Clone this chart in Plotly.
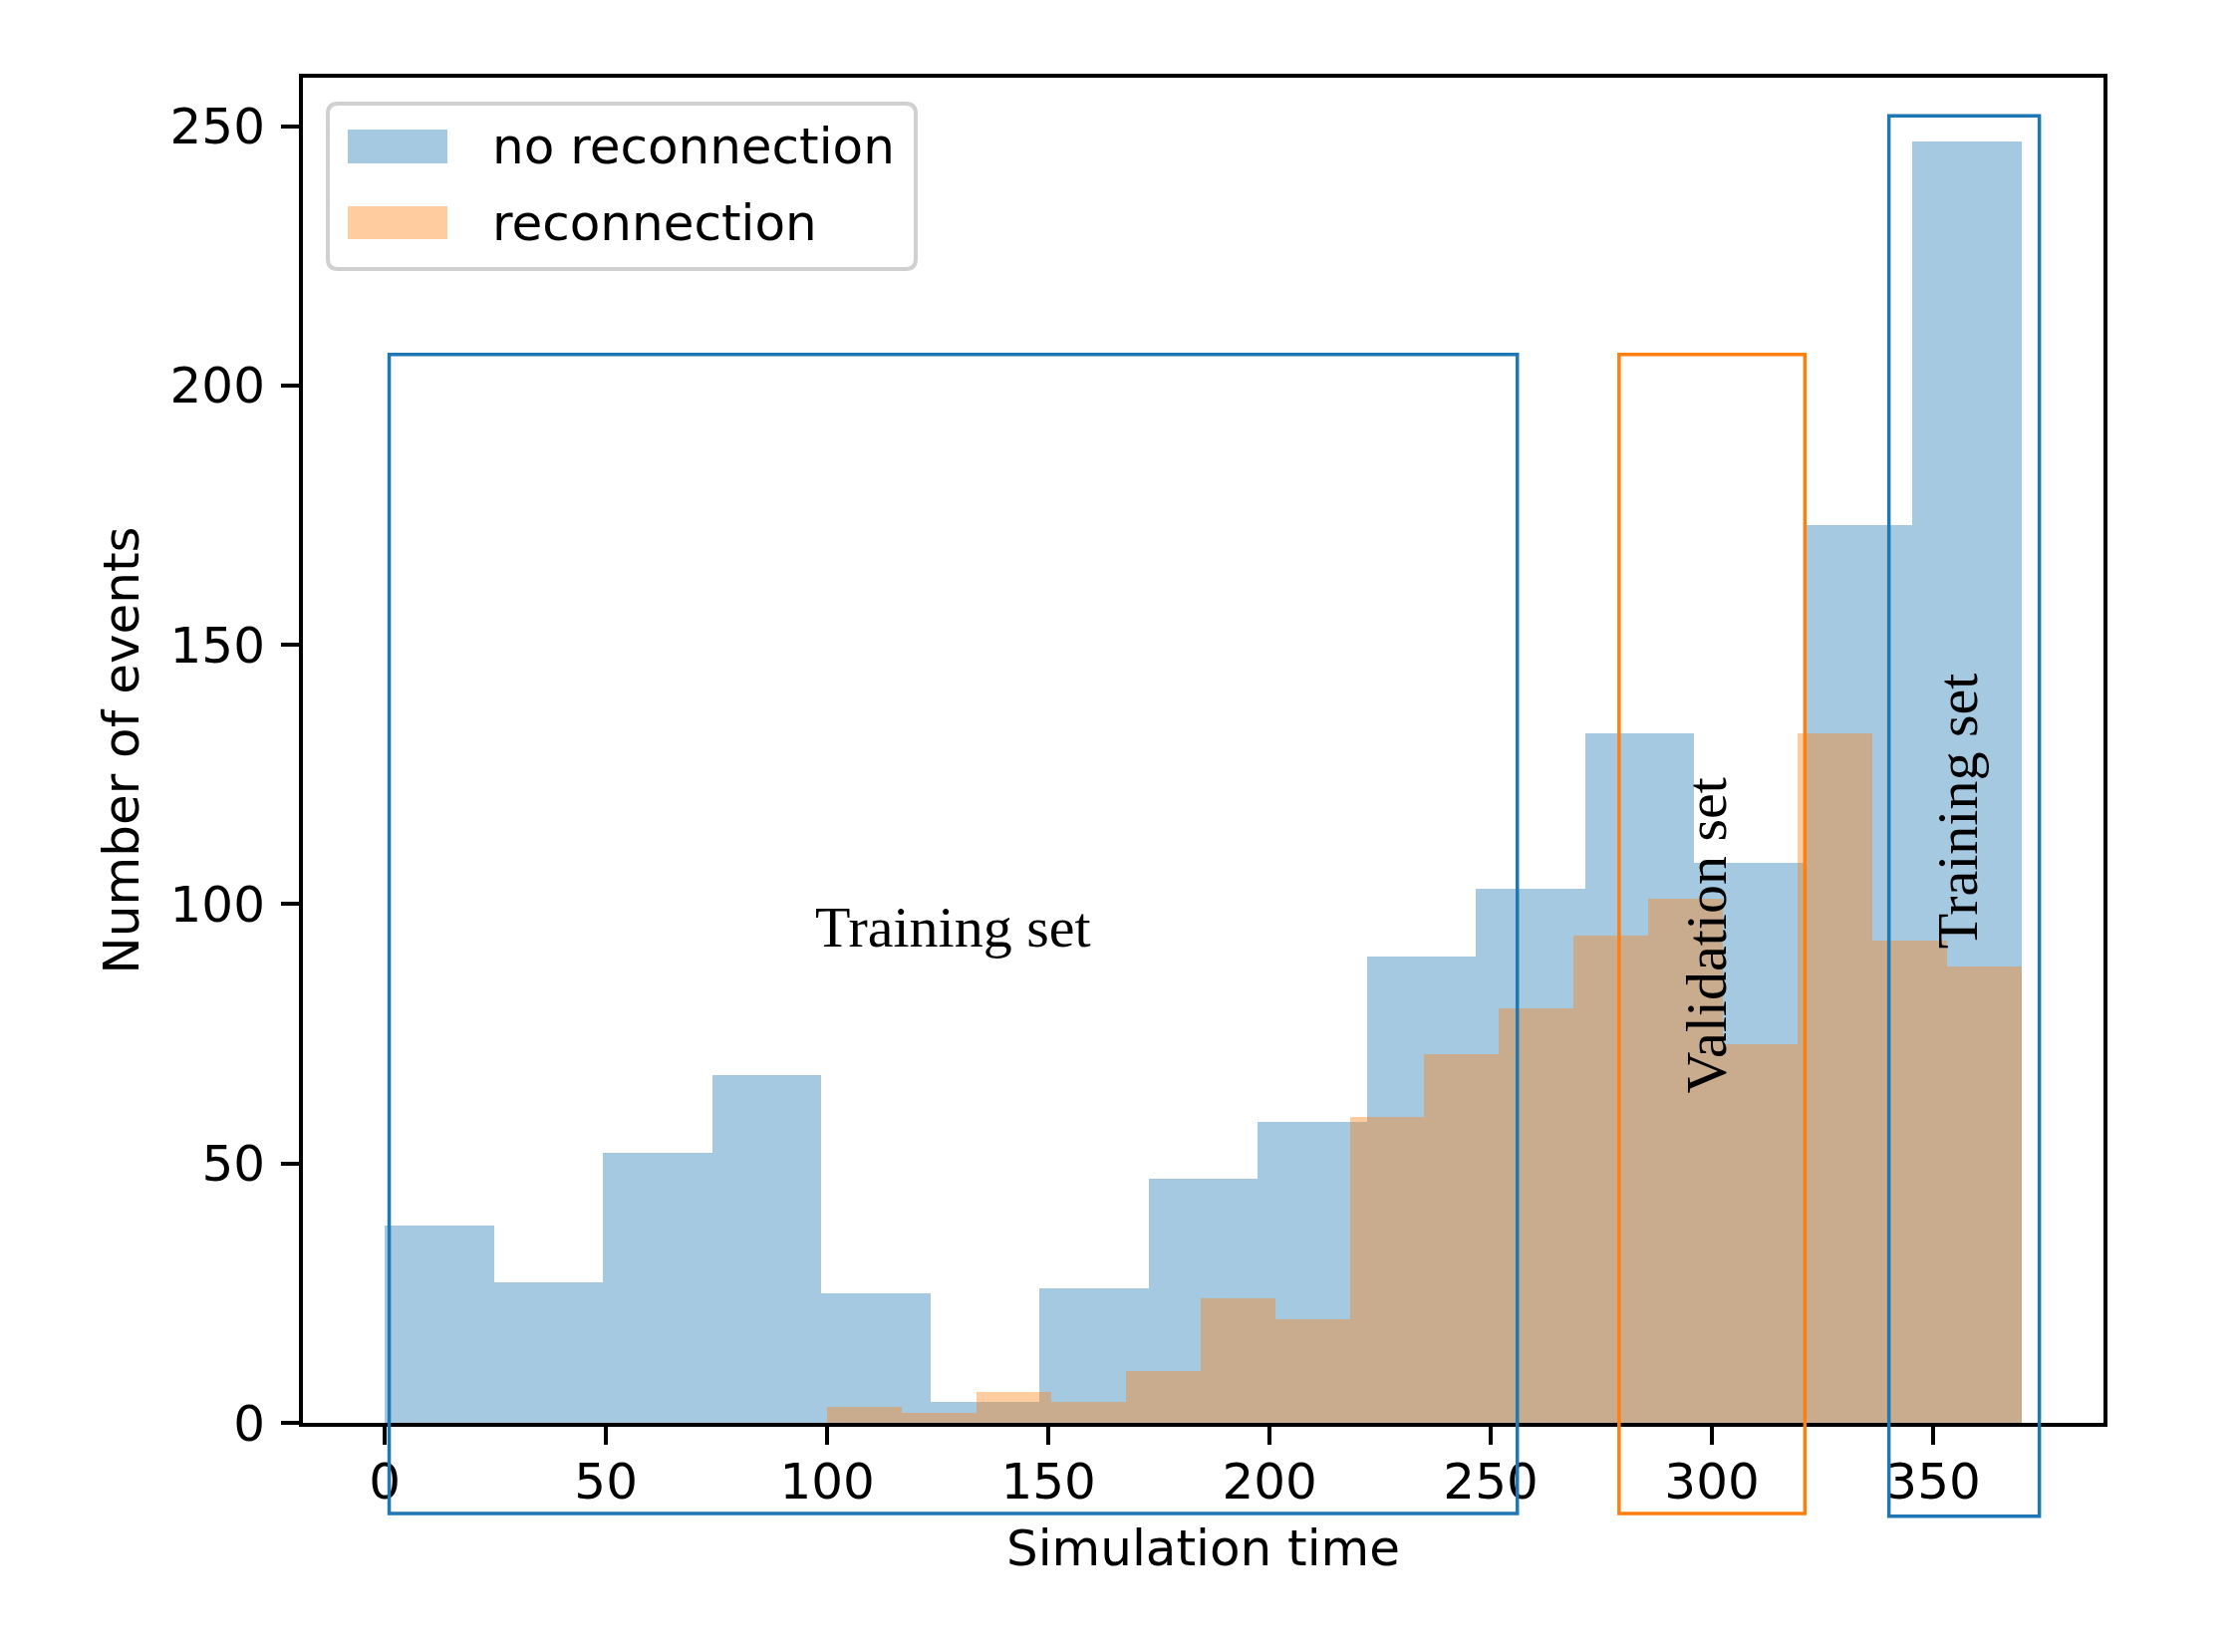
import numpy as np
import plotly.graph_objects as go

# histogram counts
time_lo, time_hi = 0, 370
no_recon_counts = [38, 27, 52, 67, 25, 4, 26, 47, 58, 90, 103, 133, 108, 173, 247]
recon_lo = 100
recon_counts = [3, 2, 6, 4, 10, 24, 20, 59, 71, 80, 94, 101, 73, 133, 93, 88]

x_ticks = [0, 50, 100, 150, 200, 250, 300, 350]
y_ticks = [0, 50, 100, 150, 200, 250]

# annotation boxes (x0, x1, y0, y1) in data units
boxes = [
    ("Training set", (1, 256, -17.5, 206), "#1f77b4", (128.5, 95.5), 0),
    ("Validation set", (279, 321, -17.5, 206), "#ff7f0e", (298.8, 94), -90),
    ("Training set", (340, 374, -18, 252), "#1f77b4", (355.5, 118), -90),
]

W, H = 2248, 1658
L, R, T, B = 296, 145, 70, 238
x_range = [-18.5, 388.5]
y_range = [0, 259.35]

SANS = "DejaVu Sans"
SERIF = "Liberation Serif, Times New Roman, serif"
BLUE = "rgba(31,119,180,0.4)"
ORANGE = "rgba(255,127,14,0.4)"


def hist_bars(lo, hi, counts):
    edges = np.linspace(lo, hi, len(counts) + 1)
    centers = (edges[:-1] + edges[1:]) / 2
    widths = np.diff(edges)
    return centers, widths


fig = go.Figure()

cx, wx = hist_bars(time_lo, time_hi, no_recon_counts)
fig.add_trace(go.Bar(x=cx, y=no_recon_counts, width=wx, name="no reconnection",
                     marker=dict(color=BLUE, line=dict(width=0)), showlegend=False))
cx, wx = hist_bars(recon_lo, time_hi, recon_counts)
fig.add_trace(go.Bar(x=cx, y=recon_counts, width=wx, name="reconnection",
                     marker=dict(color=ORANGE, line=dict(width=0)), showlegend=False))


def dx(v):
    return (v - x_range[0]) / (x_range[1] - x_range[0])


def dy(v):
    return (v - y_range[0]) / (y_range[1] - y_range[0])


for label, (x0, x1, y0, y1), col, (tx, ty), ang in boxes:
    fig.add_shape(type="rect", xref="x domain", yref="y domain",
                  x0=dx(x0), x1=dx(x1), y0=dy(y0), y1=dy(y1),
                  line=dict(color=col, width=3.5), layer="above")
    fig.add_annotation(x=tx, y=ty, xref="x", yref="y", text=label, showarrow=False,
                       textangle=ang, font=dict(family=SERIF, size=58, color="black"),
                       xanchor="center", yanchor="middle")


# hand drawn legend (matplotlib style), positions in pixels
def px_x(p):
    return (p - L) / (W - L - R)


def px_y(p):
    return (H - B - p) / (H - T - B)


def rounded_box(x0, y0, x1, y1, r):
    pts = [
        ("M", x0 + r, y0), ("L", x1 - r, y0), ("Q", x1, y0, x1, y0 + r),
        ("L", x1, y1 - r), ("Q", x1, y1, x1 - r, y1),
        ("L", x0 + r, y1), ("Q", x0, y1, x0, y1 - r),
        ("L", x0, y0 + r), ("Q", x0, y0, x0 + r, y0),
    ]
    out = []
    for p in pts:
        cmd, vals = p[0], p[1:]
        coords = []
        for i in range(0, len(vals), 2):
            coords.append(f"{px_x(vals[i]):.5f},{px_y(vals[i + 1]):.5f}")
        out.append(cmd + " ".join(coords))
    return " ".join(out) + " Z"


fig.add_shape(type="path", xref="paper", yref="paper",
              path=rounded_box(321, 96, 911, 262, 10),
              line=dict(color="#d0d0d0", width=4), fillcolor="rgba(255,255,255,0.8)",
              layer="above")
for name, col, (ytop, ybot), ytxt in [("no reconnection", BLUE, (122, 156), 139),
                                      ("reconnection", ORANGE, (199, 232), 216)]:
    fig.add_shape(type="rect", xref="paper", yref="paper",
                  x0=px_x(341), x1=px_x(441), y0=px_y(ybot), y1=px_y(ytop),
                  line=dict(width=0), fillcolor=col, layer="above")
    fig.add_annotation(x=px_x(484), y=px_y(ytxt), xref="paper", yref="paper",
                       text=name, showarrow=False, xanchor="left", yanchor="middle",
                       font=dict(family=SANS, size=50, color="black"))

axis_style = dict(showline=True, mirror=True, linecolor="black", linewidth=4,
                  ticks="outside", ticklen=18, tickwidth=4, tickcolor="black",
                  showgrid=False, zeroline=False,
                  tickfont=dict(family=SANS, size=50, color="black"))

fig.update_layout(
    width=W, height=H,
    margin=dict(l=L, r=R, t=T, b=B, autoexpand=False),
    plot_bgcolor="white", paper_bgcolor="white",
    barmode="overlay", bargap=0,
    xaxis=dict(range=x_range, tickvals=x_ticks, ticklabelstandoff=-6,
               title=dict(text="Simulation time", standoff=22,
                          font=dict(family=SANS, size=50, color="black")),
               **axis_style),
    yaxis=dict(range=y_range, tickvals=y_ticks, ticklabelstandoff=6,
               title=dict(text="Number of events", standoff=16,
                          font=dict(family=SANS, size=50, color="black")),
               **axis_style),
)

fig.write_html("out.html")
